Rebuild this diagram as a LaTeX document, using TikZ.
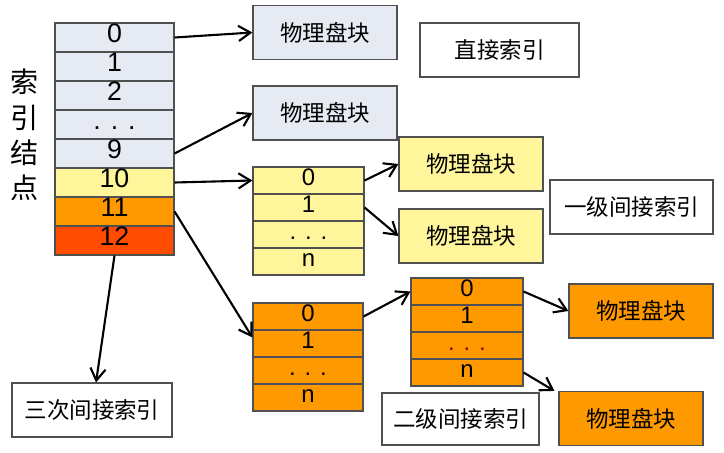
\documentclass[tikz,border=0pt]{standalone}
\usepackage{fontspec}
\setmainfont{Liberation Sans}
\newfontfamily\cjk{Noto Sans CJK SC}
\usetikzlibrary{arrows.meta}
\definecolor{cellgray}{RGB}{230,234,242}
\definecolor{cellyellow}{RGB}{255,246,155}
\definecolor{cellorange}{RGB}{255,153,0}
\definecolor{cellred}{RGB}{255,76,0}
\definecolor{boxline}{RGB}{80,80,80}
\tikzset{
  cell/.style={draw=boxline, line width=0.8pt, rectangle, inner sep=0pt, text height=0.72em, text depth=0pt, minimum width=2.975cm, minimum height=0.725cm, font=\fontsize{19}{19}\selectfont},
  subcell/.style={draw=boxline, line width=0.8pt, rectangle, inner sep=0pt, text height=0.72em, text depth=0pt, minimum height=0.675cm, font=\fontsize{17}{17}\selectfont},
  block/.style={draw=boxline, line width=0.8pt, rectangle, minimum width=3.6cm, minimum height=1.35cm, font=\cjk\fontsize{16}{18}\selectfont},
  tag/.style={draw=boxline, line width=0.8pt, fill=white, rectangle, minimum height=1.35cm, font=\cjk\fontsize{16}{18}\selectfont}
}
\begin{document}
\begin{tikzpicture}[x=0.025cm, y=-0.025cm, >={Straight Barb[length=3mm,width=3.8mm]}, line width=1.5pt]
\useasboundingbox (0,0) rectangle (724,453);
\node[align=center, font=\cjk\fontsize{20}{25}\selectfont] (side) at (25,135) {索\\引\\结\\点};
\node[cell, fill=cellgray] (idx0) at (114.5,37.5) {0};
\node[cell, fill=cellgray] (idx1) at (114.5,66.5) {1};
\node[cell, fill=cellgray] (idx2) at (114.5,95.5) {2};
\node[cell, fill=cellgray] (idxd) at (114.5,124.5) {. . .};
\node[cell, fill=cellgray] (idx9) at (114.5,153.5) {9};
\node[cell, fill=cellyellow] (idx10) at (114.5,182.5) {10};
\node[cell, fill=cellorange] (idx11) at (114.5,211.5) {11};
\node[cell, fill=cellred] (idx12) at (114.5,240.5) {12};
\node[block, fill=cellgray] (blk1) at (325,32.5) {物理盘块};
\node[block, fill=cellgray] (blk2) at (325,113) {物理盘块};
\node[tag, minimum width=3.975cm] (direct) at (499.5,50) {直接索引};
\node[subcell, fill=cellyellow, minimum width=2.775cm] (ya0) at (308.5,180.5) {0};
\node[subcell, fill=cellyellow, minimum width=2.775cm] (ya1) at (308.5,207.5) {1};
\node[subcell, fill=cellyellow, minimum width=2.775cm] (yad) at (308.5,234.5) {. . .};
\node[subcell, fill=cellyellow, minimum width=2.775cm] (yan) at (308.5,261.5) {n};
\node[block, fill=cellyellow] (blk3) at (471,164) {物理盘块};
\node[block, fill=cellyellow] (blk4) at (471,236) {物理盘块};
\node[tag, minimum width=4.075cm] (single) at (631.5,207) {一级间接索引};
\node[subcell, fill=cellorange, minimum width=2.75cm] (oa0) at (308,316.5) {0};
\node[subcell, fill=cellorange, minimum width=2.75cm] (oa1) at (308,343.5) {1};
\node[subcell, fill=cellorange, minimum width=2.75cm] (oad) at (308,370.5) {. . .};
\node[subcell, fill=cellorange, minimum width=2.75cm] (oan) at (308,397.5) {n};
\node[subcell, fill=cellorange, minimum width=2.8cm] (ob0) at (467,291.5) {0};
\node[subcell, fill=cellorange, minimum width=2.8cm] (ob1) at (467,318.5) {1};
\node[subcell, fill=cellorange, minimum width=2.8cm, text=red!60!black] (obd) at (467,345.5) {. . .};
\node[subcell, fill=cellorange, minimum width=2.8cm] (obn) at (467,372.5) {n};
\node[block, fill=cellorange] (blk5) at (641,311) {物理盘块};
\node[block, fill=cellorange] (blk6) at (631,418.5) {物理盘块};
\node[tag, minimum width=3.925cm, minimum height=1.3cm] (double) at (460.5,419) {二级间接索引};
\node[tag, minimum width=4.0cm] (triple) at (92,410) {三次间接索引};
\draw[->] (idx0.east) -- (blk1.west);
\draw[->] (idx9.east) -- (blk2.west);
\draw[->] (idx10.east) -- (ya0.west);
\draw[->] (idx11.east) -- ([yshift=0.15cm]oa1.west);
\draw[->] (idx12.south) -- ([xshift=0.1cm]triple.north);
\draw[->] (ya0.east) -- (blk3.west);
\draw[->] (ya1.east) -- (blk4.west);
\draw[->] (oa0.east) -- (ob0.west);
\draw[->] (ob0.east) -- (blk5.west);
\draw[->] (obn.east) -- ([xshift=-0.1cm]blk6.north west);
\end{tikzpicture}
\end{document}
